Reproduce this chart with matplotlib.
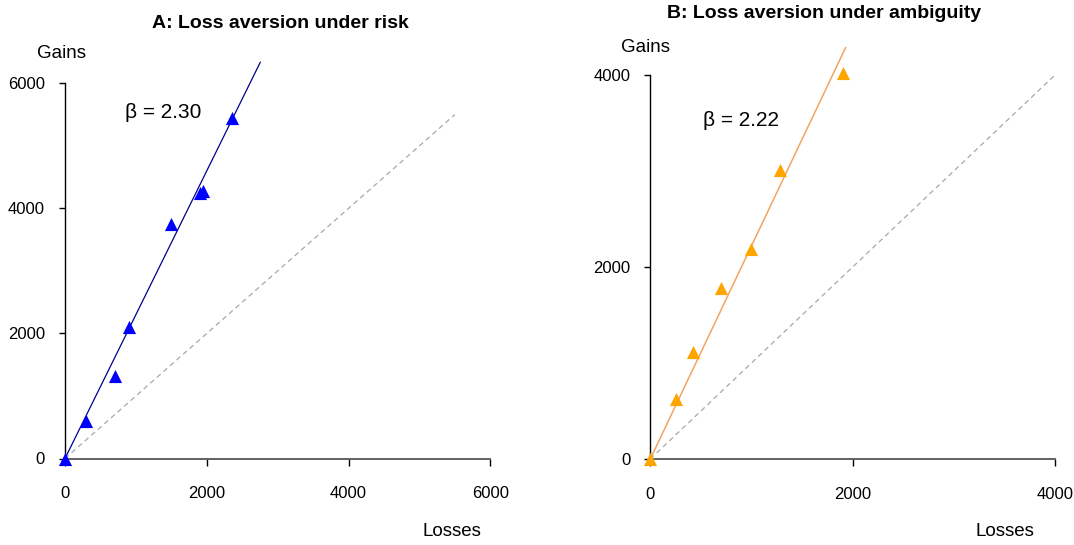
import matplotlib
matplotlib.use("Agg")
import matplotlib.pyplot as plt
import numpy as np

plt.rcParams['font.family'] = ['Liberation Sans', 'DejaVu Sans']

# Panel A: loss aversion under risk
risk_losses = [0, 300, 700, 900, 1500, 1900, 1950, 2350]
risk_gains = [0, 600, 1320, 2100, 3750, 4250, 4270, 5450]
risk_beta = 2.30
risk_fit_xmax = 2755
risk_diag_max = 5500
risk_ticks = [0, 2000, 4000, 6000]

# Panel B: loss aversion under ambiguity
amb_losses = [0, 250, 420, 700, 1000, 1280, 1900]
amb_gains = [0, 620, 1110, 1780, 2190, 3010, 4020]
amb_beta = 2.22
amb_fit_xmax = 1930
amb_diag_max = 4000
amb_ticks = [0, 2000, 4000]

W, H = 1074, 545
fig = plt.figure(figsize=(W / 100, H / 100), dpi=100)


def px_axes(x0, x1, y0, y1):
    # x0,x1 : pixel columns of data min/max ; y0 (bottom), y1 (top) pixel rows
    return fig.add_axes([x0 / W, 1 - y0 / H, (x1 - x0) / W, (y0 - y1) / H])


def panel(ax, losses, gains, beta, fit_xmax, diag_max, ticks, mcolor, lcolor, lw):
    lim = ticks[-1]
    ax.set_xlim(0, lim)
    ax.set_ylim(0, lim)
    # diagonal reference
    ax.plot([0, diag_max], [0, diag_max], ls=(0, (4, 3)), color='#a8a8a8',
            lw=0.9, clip_on=False, zorder=1)
    # fitted line through origin
    xf = np.array([0, fit_xmax])
    ax.plot(xf, beta * xf, color=lcolor, lw=lw, clip_on=False, zorder=2)
    ax.scatter(losses, gains, marker='^', s=90, color=mcolor, clip_on=False,
               zorder=3, linewidths=0)
    for s in ['top', 'right']:
        ax.spines[s].set_visible(False)
    ax.spines['left'].set_color('black')
    ax.spines['bottom'].set_color('#555555')
    ax.spines['bottom'].set_linewidth(1.3)
    ax.spines['left'].set_linewidth(1.0)
    ax.set_xticks(ticks)
    ax.set_yticks(ticks)
    ax.set_xticklabels([str(t) for t in ticks])
    ax.set_yticklabels([str(t) for t in ticks])
    ax.tick_params(axis='x', direction='out', length=5, width=1, pad=15,
                   labelsize=12, colors='black')
    ax.tick_params(axis='y', direction='out', length=4.5, width=1, pad=10,
                   labelsize=12, colors='black')
    ax.patch.set_alpha(0)


axA = px_axes(65, 490.3, 458.5, 83.3)
panel(axA, risk_losses, risk_gains, risk_beta, risk_fit_xmax, risk_diag_max,
      risk_ticks, '#0000ff', '#00008b', 0.9)

axB = px_axes(650.3, 1055, 459, 75)
panel(axB, amb_losses, amb_gains, amb_beta, amb_fit_xmax, amb_diag_max,
      amb_ticks, '#ffa500', '#f4a460', 1.1)


def ftext(x, y, s, **kw):
    fig.text(x / W, 1 - y / H, s, **kw)


ftext(280, 23, 'A: Loss aversion under risk', fontsize=14, fontweight='bold',
      ha='center', va='center')
ftext(824, 13, 'B: Loss aversion under ambiguity', fontsize=14, fontweight='bold',
      ha='center', va='center')
ftext(61, 54, 'Gains', fontsize=13.5, ha='center', va='center')
ftext(646, 48, 'Gains', fontsize=13.5, ha='center', va='center')
ftext(452, 532, 'Losses', fontsize=13.5, ha='center', va='center')
ftext(1005, 532, 'Losses', fontsize=13.5, ha='center', va='center')
ftext(125, 113, 'β = %.2f' % risk_beta, fontsize=15, ha='left', va='center')
ftext(703, 120, 'β = %.2f' % amb_beta, fontsize=15, ha='left', va='center')

fig.savefig('out.png', dpi=100)
